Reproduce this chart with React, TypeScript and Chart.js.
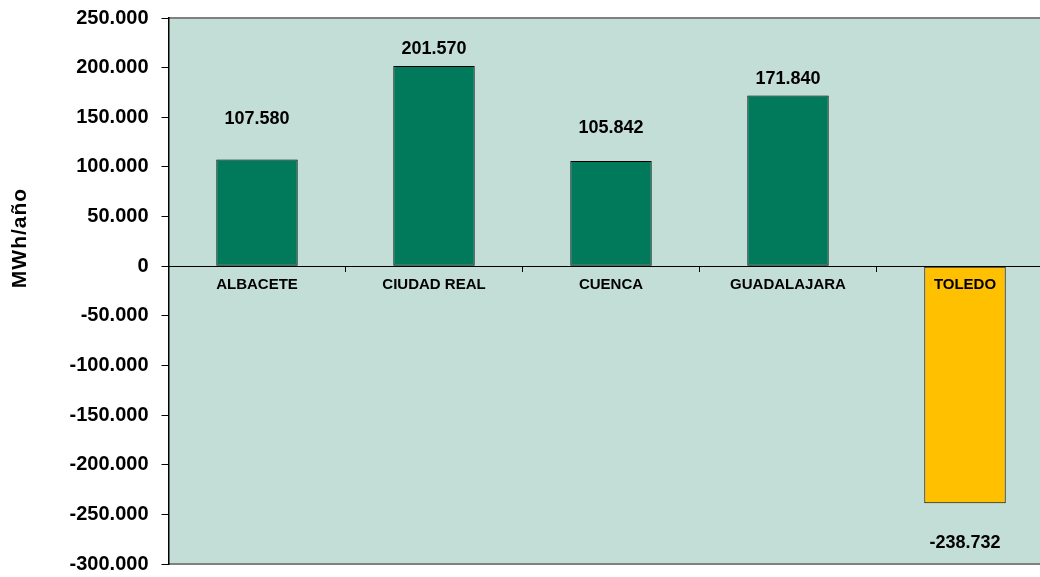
import React, { useEffect, useRef } from "react";
import { Chart, registerables } from "chart.js";

Chart.register(...registerables);

const categories = ["ALBACETE", "CIUDAD REAL", "CUENCA", "GUADALAJARA", "TOLEDO"];
const values = [107580, 201570, 105842, 171840, -238732];
const yTicks = [250000, 200000, 150000, 100000, 50000, 0, -50000, -100000, -150000, -200000, -250000, -300000];
const axisTitle = "MWh/año";

const barColors = ["#007A5A", "#007A5A", "#007A5A", "#007A5A", "#FFC000"];
const labelOffsets = [40, 17, 33, 17, 40];
const FONT = "'Liberation Sans', Arial, sans-serif";

const fmt = (v: number) => {
  const s = Math.round(Math.abs(v)).toString().replace(/\B(?=(\d{3})+(?!\d))/g, ".");
  return (v < 0 ? "-" : "") + s;
};

const bgPlugin = {
  id: "bgPlugin",
  beforeDraw(chart: any) {
    const { ctx, chartArea: a } = chart;
    ctx.save();
    ctx.fillStyle = "#C2DED6";
    ctx.fillRect(a.left, a.top, a.right - a.left, a.bottom - a.top);
    ctx.strokeStyle = "#808080";
    ctx.lineWidth = 2;
    ctx.beginPath();
    ctx.moveTo(a.left, a.top);
    ctx.lineTo(a.right + 10, a.top);
    ctx.moveTo(a.left, a.bottom);
    ctx.lineTo(a.right + 10, a.bottom);
    ctx.stroke();
    ctx.restore();
  },
};

const labelPlugin = {
  id: "labelPlugin",
  afterDraw(chart: any) {
    const { ctx } = chart;
    const meta = chart.getDatasetMeta(0);
    const xs = chart.scales.x;
    const ys = chart.scales.y;
    const zeroY = ys.getPixelForValue(0);
    ctx.save();
    ctx.strokeStyle = "#000";
    ctx.lineWidth = 1;
    ctx.beginPath();
    ctx.moveTo(chart.chartArea.left, Math.round(zeroY) + 0.5);
    ctx.lineTo(chart.chartArea.right, Math.round(zeroY) + 0.5);
    ctx.stroke();
    ctx.fillStyle = "#000";
    ctx.textAlign = "center";
    ctx.textBaseline = "middle";
    ctx.font = `bold 15px ${FONT}`;
    categories.forEach((c, i) => {
      ctx.fillText(c, xs.getPixelForTick(i), zeroY + 19);
    });
    ctx.font = `bold 18px ${FONT}`;
    meta.data.forEach((bar: any, i: number) => {
      const v = values[i];
      const y = v >= 0 ? bar.y - labelOffsets[i] : bar.y + labelOffsets[i];
      ctx.fillText(fmt(v), bar.x, y);
    });
    ctx.translate(20, 238);
    ctx.rotate(-Math.PI / 2);
    ctx.font = `bold 21px ${FONT}`;
    try {
      (ctx as any).letterSpacing = "1px";
    } catch (e) {}
    ctx.fillText(axisTitle, 0, 0);
    ctx.restore();
  },
};

export default function App() {
  const ref = useRef<HTMLCanvasElement | null>(null);
  useEffect(() => {
    if (!ref.current) return;
    const chart = new Chart(ref.current, {
      type: "bar",
      data: {
        labels: categories,
        datasets: [
          {
            data: values,
            backgroundColor: barColors,
            borderColor: "#000",
            borderWidth: 1,
            borderSkipped: false,
            barPercentage: 0.46,
            categoryPercentage: 1,
          },
        ],
      },
      options: {
        animation: false,
        responsive: false,
        maintainAspectRatio: false,
        layout: { padding: { left: 0, top: 18, right: 6.5, bottom: 13 } },
        plugins: { legend: { display: false }, tooltip: { enabled: false } },
        scales: {
          x: {
            position: { y: 0 } as any,
            afterFit: (s: any) => {
              s.paddingTop = 0;
              s.paddingBottom = 0;
              s.paddingLeft = 0;
              s.paddingRight = 0;
            },
            grid: { offset: true, drawOnChartArea: false, drawTicks: true, tickLength: 5, color: "#000" },
            border: { display: true, color: "#000", width: 1 },
            ticks: { display: false, autoSkip: false },
          },
          y: {
            min: -300000,
            max: 250000,
            afterFit: (s: any) => {
              s.width = 168.5;
              s.paddingTop = 0;
              s.paddingBottom = 0;
            },
            afterBuildTicks: (s: any) => {
              s.ticks = yTicks.map((v) => ({ value: v }));
            },
            grid: { drawOnChartArea: false, drawTicks: true, tickLength: 7, color: "#000" },
            border: { display: true, color: "#000", width: 1.5 },
            ticks: {
              color: "#000",
              font: { family: FONT, size: 20, weight: "bold" },
              padding: 13,
              callback: (v: any) => fmt(Number(v)),
            },
          },
        },
      },
      plugins: [bgPlugin, labelPlugin],
    });
    return () => chart.destroy();
  }, []);
  return (
    <div style={{ position: "fixed", left: 0, top: 0, width: 1040, height: 577, overflow: "hidden", background: "#fff" }}>
      <canvas ref={ref} width={1060} height={577} style={{ width: 1060, height: 577, display: "block" }} />
    </div>
  );
}
